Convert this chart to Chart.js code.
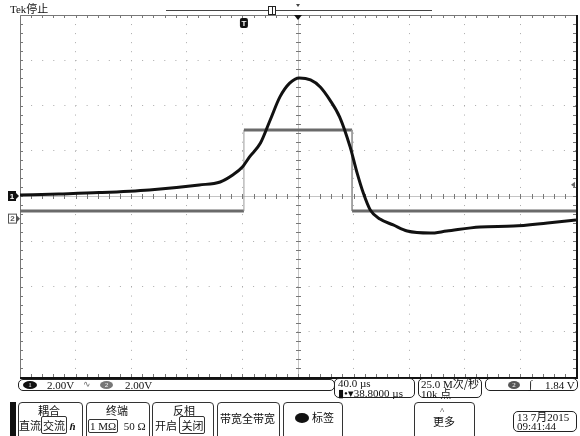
<!DOCTYPE html>
<html>
<head>
<meta charset="utf-8">
<script src="https://cdn.jsdelivr.net/npm/chart.js@4.4.0/dist/chart.umd.min.js"></script>
<style>
    body { margin: 0; background: #fff; width: 580px; height: 436px; overflow: hidden; position: relative;
           font-family: "Liberation Serif", "Noto Sans CJK SC", serif; color: #111; }
    canvas { position: absolute; left: 0; top: 0; }
    .t { position: absolute; font-size: 11px; line-height: 11px; white-space: nowrap; }
    .box { position: absolute; border: 1px solid #222; border-radius: 4px; box-sizing: border-box; }
    .menu { position: absolute; top: 402px; height: 40px; border: 1.5px solid #333; border-radius: 4px; box-sizing: border-box; }
    .badge { position: absolute; border-radius: 50%; font-size: 7px; line-height: 8px; text-align: center; color: #fff; }
    .cn { font-family: "Noto Sans CJK SC", serif; font-size: 11px; }
    .sel { border: 1px solid #333; border-radius: 2px; padding: 0 1px; }
</style>
</head>
<body>
<canvas id="scope" width="580" height="436"></canvas>

<!-- top label -->
<div class="t" style="left:10px;top:3px;font-size:11px;">Tek<span class="cn">停止</span></div>

<!-- status bar -->
<div class="box" style="left:18px;top:379px;width:317px;height:12px;border-radius:5px;"></div>
<div class="badge" style="left:23px;top:381px;width:14px;height:8px;background:#111;">1</div>
<div class="t" style="left:47px;top:380px;">2.00V</div>
<div class="t" style="left:83px;top:379px;font-size:9px;color:#666;">∿</div>
<div class="badge" style="left:100px;top:381px;width:13px;height:8px;background:#777;">2</div>
<div class="t" style="left:125px;top:380px;">2.00V</div>

<div class="box" style="left:334px;top:378px;width:81px;height:20px;border-radius:5px;"></div>
<div class="t" style="left:338px;top:378px;">40.0 µs</div>
<div class="t" style="left:338px;top:388px;">▮•▾38.8000 µs</div>

<div class="box" style="left:418px;top:378px;width:64px;height:20px;border-radius:5px;"></div>
<div class="t" style="left:421px;top:378px;">25.0 M<span class="cn">次/秒</span></div>
<div class="t" style="left:421px;top:388px;">10k <span class="cn">点</span></div>

<div class="box" style="left:485px;top:378px;width:93px;height:13px;border-radius:5px;"></div>
<div class="badge" style="left:508px;top:381px;width:12px;height:8px;background:#555;">2</div>
<div class="t" style="left:529px;top:379px;font-style:italic;font-weight:bold;">∫</div>
<div class="t" style="left:545px;top:380px;">1.84 V</div>

<!-- bottom menu -->
<div style="position:absolute;left:10px;top:402px;width:6px;height:34px;background:#111;"></div>
<div class="menu" style="left:18px;width:65px;"></div>
<div class="t cn" style="left:38px;top:405px;">耦合</div>
<div class="t cn" style="left:19px;top:420px;">直流<span class="sel">交流</span> <i style="font-family:'Liberation Serif';font-weight:bold;">ɦ</i></div>

<div class="menu" style="left:86px;width:64px;"></div>
<div class="t cn" style="left:106px;top:405px;">终端</div>
<div class="t" style="left:88px;top:421px;"><span class="sel">1 MΩ</span>&nbsp; 50 Ω</div>

<div class="menu" style="left:152px;width:62px;"></div>
<div class="t cn" style="left:173px;top:405px;">反相</div>
<div class="t cn" style="left:155px;top:420px;">开启 <span class="sel">关闭</span></div>

<div class="menu" style="left:217px;width:63px;"></div>
<div class="t cn" style="left:220px;top:413px;">带宽全带宽</div>

<div class="menu" style="left:283px;width:60px;"></div>
<div style="position:absolute;left:295px;top:413px;width:14px;height:10px;border-radius:50%;background:#111;"></div>
<div class="t cn" style="left:312px;top:412px;">标签</div>

<div class="menu" style="left:414px;width:61px;"></div>
<div class="t" style="left:440px;top:406px;font-size:9px;">^</div>
<div class="t cn" style="left:433px;top:416px;">更多</div>

<div class="box" style="left:513px;top:411px;width:64px;height:21px;border-radius:5px;"></div>
<div class="t" style="left:517px;top:411px;">13 7<span class="cn">月</span>2015</div>
<div class="t" style="left:517px;top:421px;">09:41:44</div>

<script>
// ---------- DATA (time in µs around screen centre, screen volts at 2 V/div) ----------
const ch1Time = [-200, -172, -143, -107, -71, -56, -47, -40, -35, -27, -20, -13, -6,
                 1, 9, 16, 23, 30, 37.5, 42.5, 47, 52, 59, 68.5, 78.6, 95, 107, 131, 155, 179.5, 200];
const ch1Volts = [0.04, 0.09, 0.15, 0.27, 0.49, 0.62, 0.93, 1.28, 1.72, 2.34, 3.36, 4.38, 4.99,
                  5.22, 5.13, 4.82, 4.24, 3.49, 2.17, 1.02, 0.13, -0.62, -1.02, -1.28, -1.55, -1.64, -1.55, -1.37, -1.33, -1.19, -1.06];

const ch2Time = [-200, -38.9, -38.9, 38.9, 38.9, 200];
const ch2Volts = [-0.66, -0.66, 2.92, 2.92, -0.66, -0.66];

const TIME_MIN = -200, TIME_MAX = 200, TIME_STEP = 40;   // 40 µs/div
const VOLT_MIN = -8, VOLT_MAX = 8, VOLT_STEP = 2;         // 2 V/div
const CH2_GROUND = -1.0;
const TRIG_TIME = -38.9;
const TRIG_LEVEL = 0.5;

// ---------- DECORATIONS (frame, crosshair, markers) ----------
const scopeDecor = {
    id: "scopeDecor",
    beforeDatasetsDraw(chart) {
        const { ctx, chartArea: a, scales: { x, y } } = chart;
        const cx = x.getPixelForValue(0), cy = y.getPixelForValue(0);
        const dx = (a.right - a.left) / 50, dy = (a.bottom - a.top) / 40;
        ctx.save();
        // centre cross
        ctx.strokeStyle = "#c4c4c4";
        ctx.lineWidth = 1;
        ctx.beginPath();
        ctx.moveTo(a.left, Math.round(cy) + 0.5); ctx.lineTo(a.right, Math.round(cy) + 0.5);
        ctx.moveTo(Math.round(cx) + 0.5, a.top); ctx.lineTo(Math.round(cx) + 0.5, a.bottom);
        ctx.stroke();
        ctx.strokeStyle = "#777";
        ctx.beginPath();
        for (let i = 1; i < 50; i++) {
            const px = Math.round(a.left + i * dx) + 0.5;
            ctx.moveTo(px, cy - 2); ctx.lineTo(px, cy + 3);
            ctx.moveTo(px, a.top); ctx.lineTo(px, a.top + 3);
            ctx.moveTo(px, a.bottom); ctx.lineTo(px, a.bottom - 3);
        }
        for (let j = 1; j < 40; j++) {
            const py = Math.round(a.top + j * dy) + 0.5;
            ctx.moveTo(cx - 2, py); ctx.lineTo(cx + 3, py);
            ctx.moveTo(a.left, py); ctx.lineTo(a.left + 3, py);
            ctx.moveTo(a.right, py); ctx.lineTo(a.right - 3, py);
        }
        ctx.stroke();
        // frame
        ctx.strokeStyle = "#777";
        ctx.beginPath();
        ctx.moveTo(a.left + 0.5, a.bottom); ctx.lineTo(a.left + 0.5, a.top + 0.5); ctx.lineTo(a.right, a.top + 0.5);
        ctx.stroke();
        ctx.strokeStyle = "#111";
        ctx.lineWidth = 2;
        ctx.beginPath();
        ctx.moveTo(a.left, a.bottom + 1); ctx.lineTo(a.right + 1, a.bottom + 1); ctx.lineTo(a.right + 1, a.top);
        ctx.stroke();
        ctx.restore();
    },
    afterDraw(chart) {
        const { ctx, chartArea: a, scales: { x, y } } = chart;
        const cx = x.getPixelForValue(0);
        ctx.save();
        ctx.font = "bold 8px 'Liberation Sans'";
        ctx.textAlign = "center";
        ctx.textBaseline = "middle";
        // ch1 ground marker
        const g1 = y.getPixelForValue(0);
        ctx.fillStyle = "#111";
        ctx.fillRect(8, g1 - 5, 8, 10);
        ctx.beginPath(); ctx.moveTo(16, g1 - 3); ctx.lineTo(19, g1); ctx.lineTo(16, g1 + 3); ctx.fill();
        ctx.fillStyle = "#fff";
        ctx.fillText("1", 12, g1 + 0.5);
        // ch2 ground marker
        const g2 = y.getPixelForValue(CH2_GROUND);
        ctx.strokeStyle = "#555"; ctx.lineWidth = 1;
        ctx.strokeRect(8.5, g2 - 4.5, 8, 9);
        ctx.fillStyle = "#555";
        ctx.beginPath(); ctx.moveTo(17, g2 - 3); ctx.lineTo(20, g2); ctx.lineTo(17, g2 + 3); ctx.fill();
        ctx.fillText("2", 12.5, g2 + 0.5);
        // trigger marker
        const tx = x.getPixelForValue(TRIG_TIME);
        ctx.fillStyle = "#111";
        ctx.beginPath(); ctx.roundRect(tx - 4, a.top + 3, 8, 10, 2); ctx.fill();
        ctx.fillStyle = "#fff";
        ctx.fillText("T", tx, a.top + 8.5);
        // centre position marker
        ctx.fillStyle = "#111";
        ctx.beginPath(); ctx.moveTo(cx - 4, a.top); ctx.lineTo(cx + 4, a.top); ctx.lineTo(cx, a.top + 5); ctx.fill();
        // trigger level marker
        const ty = y.getPixelForValue(TRIG_LEVEL);
        ctx.fillStyle = "#666";
        ctx.beginPath(); ctx.moveTo(a.right - 1, ty - 3); ctx.lineTo(a.right - 5, ty); ctx.lineTo(a.right - 1, ty + 3); ctx.fill();
        // record bar on top
        ctx.strokeStyle = "#444"; ctx.lineWidth = 1;
        ctx.beginPath(); ctx.moveTo(166, 10.5); ctx.lineTo(432, 10.5); ctx.stroke();
        ctx.fillStyle = "#fff"; ctx.fillRect(268, 6, 8, 9);
        ctx.strokeStyle = "#222"; ctx.strokeRect(268.5, 6.5, 7, 8);
        ctx.beginPath(); ctx.moveTo(272.5, 6.5); ctx.lineTo(272.5, 14.5); ctx.stroke();
        ctx.fillStyle = "#444";
        ctx.beginPath(); ctx.moveTo(cx - 2, 4); ctx.lineTo(cx + 2, 4); ctx.lineTo(cx, 7); ctx.fill();
        ctx.restore();
    }
};

// ---------- CHART ----------
const ctx = document.getElementById("scope").getContext("2d");
new Chart(ctx, {
    type: "line",
    data: {
        datasets: [
            {
                label: "CH1",
                data: ch1Time.map((t, i) => ({ x: t, y: ch1Volts[i] })),
                borderColor: "#111",
                borderWidth: 3,
                cubicInterpolationMode: "monotone",
                order: 1
            },
            {
                label: "CH2",
                data: ch2Time.map((t, i) => ({ x: t, y: ch2Volts[i] })),
                borderColor: "#6a6a6a",
                borderWidth: 3,
                tension: 0,
                segment: {
                    borderWidth: c => c.p0.parsed.x === c.p1.parsed.x ? 1 : 3,
                    borderColor: c => c.p0.parsed.x === c.p1.parsed.x ? "#999" : "#6a6a6a"
                },
                order: 2
            }
        ]
    },
    options: {
        responsive: false,
        animation: false,
        layout: { padding: { left: 20, right: 4, top: 15, bottom: 59 } },
        elements: { point: { radius: 0 } },
        plugins: { legend: { display: false }, tooltip: { enabled: false } },
        scales: {
            x: {
                type: "linear",
                min: TIME_MIN, max: TIME_MAX,
                ticks: { display: false, stepSize: TIME_STEP },
                grid: { color: "#aaa", drawTicks: false },
                border: { display: false, dash: [1, 8.05] }
            },
            y: {
                min: VOLT_MIN, max: VOLT_MAX,
                ticks: { display: false, stepSize: VOLT_STEP },
                grid: { color: "#aaa", drawTicks: false },
                border: { display: false, dash: [1, 10.1] }
            }
        }
    },
    plugins: [scopeDecor]
});
</script>
</body>
</html>
